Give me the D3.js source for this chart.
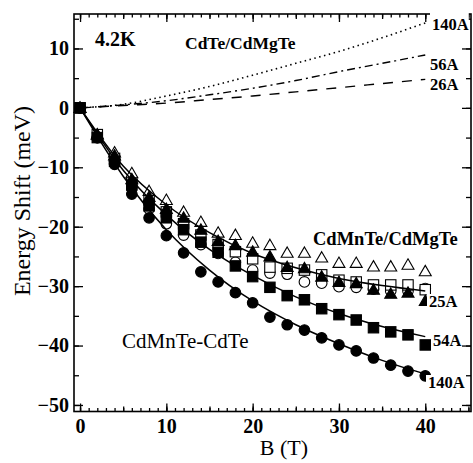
<!DOCTYPE html>
<html>
<head>
<meta charset="utf-8">
<script src="https://cdn.jsdelivr.net/npm/d3@7"></script>
<style>
  body { margin: 0; background: #fff; }
  svg text { font-family: "Liberation Serif", "DejaVu Serif", serif; fill: #000; }
</style>
</head>
<body>
<div id="chart"></div>
<script>
// Field values (T) where points were measured
const fields = [0, 2, 4, 6, 8, 10, 12, 14, 16, 18, 20, 22, 24, 26, 28, 30, 32, 34, 36, 38, 40];

// CdMnTe-CdTe / CdMnTe/CdMgTe measured shifts (meV)
const filledCircles   = [0, -5, -9.5, -14.5, -18.5, -21.5, -24.4, -27.6, -29.3, -31.1, -32.8, -35.2, -36.5, -37.4, -38.7, -39.9, -40.9, -42.1, -43.3, -44.3, -45.1];
const filledSquares   = [0, -5, -9, -13, -16.5, -18.5, -20.5, -22.6, -24.3, -26.6, -28.4, -30.2, -31.6, -32.3, -33.8, -34.8, -35.7, -37, -37.7, -38.2, -39.9];
const filledTriangles = [0, -4.5, -8, -12, -15, -17, -18.5, -20.5, -22.4, -23.1, -24.2, -25, -26.8, -27, -28.4, -29.3, -29.5, -30.6, -31.3, -31.1, -32.5];
const openTriangles   = [0, -4.5, -7.5, -11, -14, -15.5, -17.5, -19.2, -21, -21.4, -22.7, -23.1, -24.4, -24.4, -25.2, -26.1, -26.1, -26.7, -26.7, -26.4, -27.5];
const openSquares     = [0, -4.5, -8.5, -12.5, -15.5, -17.5, -19.5, -21.4, -23, -24.2, -25.4, -26.8, -27, -27.3, -28.1, -29, -29.3, -29.8, -29.8, -29.8, -30.6];
const openCircles     = [0, -5, -9, -13.5, -17, -19.5, -21.4, -23, -24.5, -26, -27.3, -27.8, -28, -29.3, -29.5, -30.1, -30.2, -30.5, -30.8, -30.8, -30.4];

// Fitted curves, read at these fields
const fitFields = [0, 5, 10, 15, 20, 25, 30, 35, 40];
const fit140 = [0, -11.5, -20.5, -27.3, -32.5, -36.5, -39.7, -42.5, -44.8];
const fit54  = [0, -10.5, -18, -23.8, -28.2, -31.8, -34.6, -36.8, -38.5];
const fit25  = [0, -9.8, -16.3, -21, -24.5, -26.9, -28.7, -29.9, -30.8];

// CdTe/CdMgTe curves
const cdte140 = [0, 0.6, 2, 3.6, 5.5, 7.5, 9.5, 11.8, 14.3];
const cdte56  = [0, 0.5, 1.2, 2.2, 3.3, 4.6, 6.1, 7.5, 8.9];
const cdte26  = [0, 0.4, 0.8, 1.4, 2, 2.7, 3.4, 4.1, 4.8];

const yTicks = [10, 0, -10, -20, -30, -40, -50];
const xTicks = [0, 10, 20, 30, 40];

const width = 473, height = 463;
const svg = d3.select('#chart').append('svg')
    .attr('width', width)
    .attr('height', height);

const x = d3.scaleLinear().domain([-0.7, 45.3]).range([74, 471]);
const y = d3.scaleLinear().domain([-51.1, 15.8]).range([411.5, 14]);

// frame
svg.append('rect')
    .attr('x', x.range()[0]).attr('y', y.range()[1])
    .attr('width', x.range()[1] - x.range()[0])
    .attr('height', y.range()[0] - y.range()[1])
    .attr('fill', 'none').attr('stroke', '#000').attr('stroke-width', 1.6);

// axes helper - ticks point inward
function ticks(axisFn, transform, values, size, labels) {
    const ax = axisFn.tickValues(values).tickSize(-size).tickPadding(labels ? 7 : 0);
    if (!labels) ax.tickFormat('');
    const g = svg.append('g').attr('transform', transform).call(ax);
    g.select('.domain').remove();
    g.selectAll('line').attr('stroke', '#000').attr('stroke-width', 1.3);
    return g;
}

const xMinor = d3.range(0, 46, 1);
const xMid = d3.range(0, 46, 5);
const yMinor = d3.range(-50, 16, 5);

const atBottom = `translate(0,${y.range()[0]})`;
const atTop = `translate(0,${y.range()[1]})`;
const atLeft = `translate(${x.range()[0]},0)`;
const atRight = `translate(${x.range()[1]},0)`;

ticks(d3.axisBottom(x), atBottom, xMinor, 3.5, false);
ticks(d3.axisBottom(x), atBottom, xMid, 5, false);
const xLab = ticks(d3.axisBottom(x).tickFormat(d3.format('d')), atBottom, xTicks, 8, true);
xLab.selectAll('text').attr('font-size', 20).attr('font-weight', 'bold').attr('font-family', 'Liberation Serif');

ticks(d3.axisTop(x), atTop, xMinor, 3.5, false);
ticks(d3.axisTop(x), atTop, xMid, 5, false);
ticks(d3.axisTop(x), atTop, xTicks, 8, false);

ticks(d3.axisLeft(y), atLeft, yMinor, 5, false);
const yLab = ticks(d3.axisLeft(y).tickFormat(d3.format('d')), atLeft, yTicks, 9, true);
yLab.selectAll('text').attr('font-size', 20).attr('font-weight', 'bold')
    .attr('font-family', 'Liberation Serif').attr('dx', 2);

ticks(d3.axisRight(y), atRight, yMinor, 5, false);
ticks(d3.axisRight(y), atRight, yTicks, 9, false);

// CdTe/CdMgTe curves
const line = d3.line()
    .x((d, i) => x(fitFields[i]))
    .y(d => y(d))
    .curve(d3.curveMonotoneX);

const cdteCurves = [
    { values: cdte140, dash: '1.5,3.5', width: 1.6 },
    { values: cdte56, dash: '8,4,2,4', width: 1.4 },
    { values: cdte26, dash: '10,9', width: 1.4 }
];
cdteCurves.forEach(c => {
    svg.append('path')
        .attr('d', line(c.values))
        .attr('fill', 'none')
        .attr('stroke', '#000')
        .attr('stroke-width', c.width)
        .attr('stroke-dasharray', c.dash);
});

// markers
const tri = d3.symbol().type(d3.symbolTriangle).size(62);

function drawSeries(values, shape, filled) {
    const g = svg.append('g');
    const fill = filled ? '#000' : '#fff';
    const sel = g.selectAll('.m').data(values).enter();
    if (shape === 'circle') {
        sel.append('circle')
            .attr('cx', (d, i) => x(fields[i]))
            .attr('cy', d => y(d))
            .attr('r', 5.3)
            .attr('fill', fill).attr('stroke', '#000').attr('stroke-width', 1.1);
    } else if (shape === 'square') {
        sel.append('rect')
            .attr('x', (d, i) => x(fields[i]) - 5.2)
            .attr('y', d => y(d) - 5.2)
            .attr('width', 10.4).attr('height', 10.4)
            .attr('fill', fill).attr('stroke', '#000').attr('stroke-width', 1.1);
    } else {
        sel.append('path')
            .attr('d', tri)
            .attr('transform', (d, i) => `translate(${x(fields[i])},${y(d) + 1})`)
            .attr('fill', fill).attr('stroke', '#000').attr('stroke-width', 1.1);
    }
}

drawSeries(openCircles, 'circle', false);
drawSeries(openSquares, 'square', false);
drawSeries(openTriangles, 'triangle', false);
drawSeries(filledCircles, 'circle', true);
drawSeries(filledSquares, 'square', true);
drawSeries(filledTriangles, 'triangle', true);

// fits
[fit140, fit54, fit25].forEach(f => {
    svg.append('path')
        .attr('d', line(f))
        .attr('fill', 'none')
        .attr('stroke', '#000')
        .attr('stroke-width', 1.5);
});

// labels on right, with white boxes
const rightLabels = [
    { text: '140A', x: 432, y: 30, coverTop: true },
    { text: '56A', x: 430, y: 70 },
    { text: '26A', x: 430, y: 90 },
    { text: '25A', x: 429, y: 307 },
    { text: '54A', x: 433, y: 346 },
    { text: '140A', x: 428, y: 388 }
];
rightLabels.forEach(l => {
    const t = svg.append('text')
        .attr('x', l.x).attr('y', l.y)
        .attr('font-size', 16.5).attr('font-weight', 'bold')
        .text(l.text);
    const bb = t.node().getBBox();
    const y0 = l.coverTop ? y.range()[1] - 1 : bb.y + 2;
    svg.insert('rect', () => t.node())
        .attr('x', bb.x - 2).attr('y', y0)
        .attr('width', bb.width + 2).attr('height', bb.y + bb.height - 2 - y0)
        .attr('fill', '#fff');
});

svg.append('text').attr('x', 95).attr('y', 46)
    .attr('font-size', 20).attr('font-weight', 'bold').text('4.2K');
svg.append('text').attr('x', 185).attr('y', 49)
    .attr('font-size', 17.5).attr('font-weight', 'bold').text('CdTe/CdMgTe');
svg.append('text').attr('x', 313).attr('y', 245)
    .attr('font-size', 18.5).attr('font-weight', 'bold').text('CdMnTe/CdMgTe');
svg.append('text').attr('x', 122).attr('y', 348)
    .attr('font-size', 21).text('CdMnTe-CdTe');

// axis titles
svg.append('text')
    .attr('x', 284).attr('y', 455)
    .attr('text-anchor', 'middle')
    .attr('font-size', 22)
    .text('B (T)');
svg.append('text')
    .attr('transform', 'translate(30,201) rotate(-90)')
    .attr('text-anchor', 'middle')
    .attr('font-size', 24)
    .text('Energy Shift (meV)');
</script>
</body>
</html>
